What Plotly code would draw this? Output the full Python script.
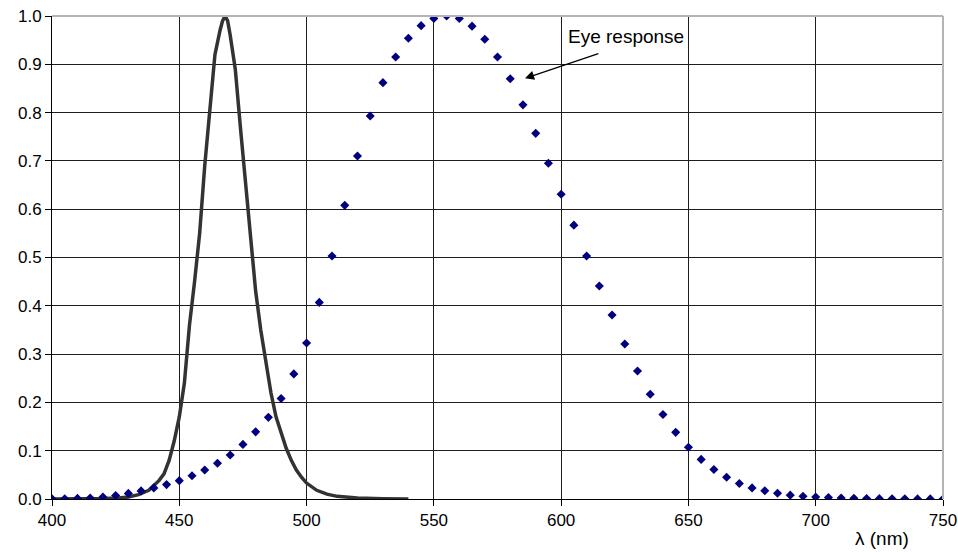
import plotly.graph_objects as go

# Eye response (photopic), 5 nm steps
eye_wl = list(range(400, 755, 5))
eye_val = [0.0004, 0.0006, 0.0012, 0.0022, 0.004, 0.0073, 0.0116, 0.0168, 0.023, 0.0298,
           0.038, 0.048, 0.06, 0.074, 0.091, 0.113, 0.139, 0.169, 0.208, 0.259,
           0.323, 0.407, 0.503, 0.608, 0.71, 0.793, 0.862, 0.915, 0.954, 0.980,
           0.995, 1.0, 0.995, 0.979, 0.952, 0.915, 0.87, 0.816, 0.757, 0.695,
           0.631, 0.567, 0.503, 0.441, 0.381, 0.321, 0.265, 0.217, 0.175, 0.138,
           0.107, 0.082, 0.061, 0.045, 0.032, 0.023, 0.017, 0.012, 0.008, 0.0057,
           0.0041, 0.0029, 0.0021, 0.0015, 0.001, 0.0007, 0.0005, 0.0004, 0.0002, 0.0002,
           0.0001]

# LED emission spectrum
led_wl = [400, 410, 420, 426, 430, 434, 438, 440, 442, 444, 446, 448, 450, 452, 454, 456,
          458, 460, 462, 464, 466, 467, 468, 469, 470, 472, 474, 476, 478, 480, 482, 484,
          486, 488, 490, 492, 494, 496, 498, 500, 504, 508, 512, 516, 520, 530, 540]
led_val = [0.0, 0.0, 0.001, 0.002, 0.004, 0.009, 0.018, 0.028, 0.038, 0.052, 0.08, 0.12,
           0.17, 0.24, 0.36, 0.45, 0.55, 0.69, 0.81, 0.92, 0.97, 0.99, 1.0, 0.99, 0.96, 0.89,
           0.77, 0.66, 0.55, 0.43, 0.35, 0.28, 0.22, 0.17, 0.135, 0.105, 0.08,
           0.06, 0.045, 0.033, 0.018, 0.010, 0.0055, 0.003, 0.002, 0.0005, 0.0]

x_ticks = [400, 450, 500, 550, 600, 650, 700, 750]
y_ticks = [0.0, 0.1, 0.2, 0.3, 0.4, 0.5, 0.6, 0.7, 0.8, 0.9, 1.0]

fig = go.Figure()
fig.add_trace(go.Scatter(x=led_wl, y=led_val, mode="lines",
                         line=dict(color="#333333", width=3.5), name="LED"))
fig.add_trace(go.Scatter(x=eye_wl, y=eye_val, mode="markers",
                         marker=dict(symbol="diamond", size=7, color="#000080"),
                         name="Eye response"))

font = dict(family="Liberation Sans, Arial, sans-serif", size=17, color="#000000")
afont = dict(family="Liberation Sans, Arial, sans-serif", size=19, color="#000000")

fig.update_layout(
    width=958, height=552,
    margin=dict(l=52, r=15, t=16, b=53),
    paper_bgcolor="white", plot_bgcolor="white",
    showlegend=False,
    font=font,
    xaxis=dict(range=[400, 750], tickvals=x_ticks, ticktext=[str(v) for v in x_ticks],
               showgrid=True, gridcolor="#1e1e1e", gridwidth=1,
               showline=True, linecolor="#000000", linewidth=1,
               ticks="outside", ticklen=6, tickcolor="#000000",
               zeroline=False, mirror=False, tickfont=font, automargin=False),
    yaxis=dict(range=[0, 1.0], tickvals=y_ticks, ticktext=[f"{v:.1f}" for v in y_ticks],
               showgrid=True, gridcolor="#1e1e1e", gridwidth=1,
               showline=True, linecolor="#000000", linewidth=1,
               ticks="outside", ticklen=6, tickcolor="#000000",
               zeroline=False, tickfont=font, automargin=False),
    shapes=[
        dict(type="line", xref="paper", yref="paper", x0=0, x1=1, y0=1, y1=1,
             line=dict(color="#b4b4b4", width=2)),
        dict(type="line", xref="paper", yref="paper", x0=1, x1=1, y0=0, y1=1,
             line=dict(color="#b4b4b4", width=2)),
    ],
    annotations=[
        dict(x=585.8, y=0.871, xref="x", yref="y", ax=615.2, ay=0.923, axref="x", ayref="y",
             text="", showarrow=True, arrowhead=2, arrowsize=1.4, arrowwidth=1.3,
             arrowcolor="#000000", standoff=0),
        dict(x=625.6, y=0.958, xref="x", yref="y", text="Eye response", showarrow=False,
             font=afont, xanchor="center", yanchor="middle"),
        dict(x=1.0, y=-0.08, xref="paper", yref="paper", text="λ (nm)", showarrow=False,
             font=afont, xanchor="center", yanchor="middle"),
    ],
)
# λ label position in paper units (pixel-based)
fig.layout.annotations[2].update(x=(882 - 52) / 891, y=(499 - 538) / 483)

fig.write_html("out.html")
